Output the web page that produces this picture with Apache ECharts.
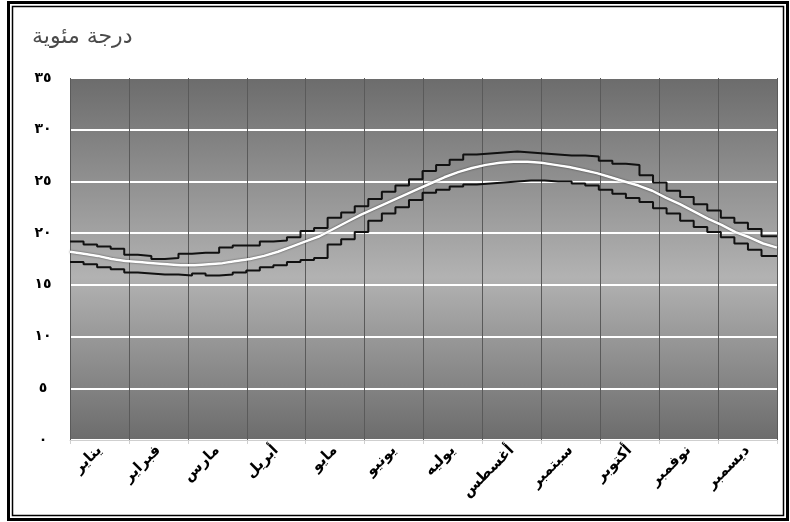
<!DOCTYPE html>
<html>
<head>
<meta charset="utf-8">
<script src="https://cdn.jsdelivr.net/npm/echarts@6/dist/echarts.min.js"></script>
<style>
  html, body { margin: 0; padding: 0; background: #fff; }
  #chart { width: 790px; height: 522px; }
</style>
</head>
<body>
<div id="chart"></div>
<script>
// Month names along the bottom axis
const months = ['يناير', 'فبراير', 'مارس', 'أبريل', 'مايو', 'يونيو', 'يوليه', 'أغسطس', 'سبتمبر', 'أكتوبر', 'نوفمبر', 'ديسمبر'];

// Y axis ticks (°C)
const yTicks = [0, 5, 10, 15, 20, 25, 30, 35];

// Weekly temperatures (°C), week 1 .. week 52
const upperTemp = [19.2, 18.9, 18.7, 18.5, 17.9, 17.8, 17.5, 17.6, 18.0, 18.1, 18.1, 18.6, 18.8,
  18.8, 19.2, 19.3, 19.6, 20.2, 20.5, 21.5, 22.0, 22.6, 23.3, 24.0, 24.6, 25.2,
  26.0, 26.6, 27.1, 27.6, 27.7, 27.8, 27.9, 27.8, 27.7, 27.6, 27.5, 27.5, 27.4,
  27.0, 26.7, 26.6, 25.6, 24.9, 24.1, 23.5, 22.8, 22.2, 21.5, 21.0, 20.4, 19.7];

const meanTemp = [18.2, 18.0, 17.8, 17.5, 17.3, 17.2, 17.1, 17.0, 16.9, 16.9, 17.0, 17.1, 17.3,
  17.5, 17.8, 18.2, 18.7, 19.2, 19.7, 20.4, 21.1, 21.8, 22.4, 23.0, 23.6, 24.2,
  24.8, 25.4, 25.9, 26.3, 26.6, 26.8, 26.9, 26.9, 26.8, 26.6, 26.4, 26.1, 25.8,
  25.4, 25.0, 24.6, 24.1, 23.4, 22.8, 22.1, 21.4, 20.8, 20.1, 19.6, 19.0, 18.6];

const lowerTemp = [17.2, 17.0, 16.7, 16.5, 16.2, 16.1, 16.0, 16.0, 15.9, 16.1, 15.9, 16.0, 16.2,
  16.4, 16.7, 16.9, 17.2, 17.4, 17.6, 18.9, 19.4, 20.1, 21.2, 21.9, 22.5, 23.2,
  23.9, 24.2, 24.5, 24.7, 24.8, 24.9, 25.0, 25.1, 25.1, 25.0, 25.0, 24.8, 24.6,
  24.2, 23.8, 23.4, 23.0, 22.4, 21.9, 21.2, 20.6, 20.1, 19.6, 19.0, 18.4, 17.8];

const DAYS = 365;
const arabicDigits = '٠١٢٣٤٥٦٧٨٩';
const toArabic = n => String(n).replace(/[0-9]/g, d => arabicDigits[d]);

// Step series: each weekly value holds from the start of its week; the last one runs to year end
function stepPoints(vals) {
  const pts = vals.map((v, i) => [i * 7, v]);
  pts.push([DAYS, vals[vals.length - 1]]);
  return pts;
}
// Mean series: weekly values spread across the full year
function spreadPoints(vals) {
  return vals.map((v, i) => [i * DAYS / (vals.length - 1), v]);
}

const chart = echarts.init(document.getElementById('chart'), null, { renderer: 'canvas' });

const arabicFont = '"DejaVu Sans", sans-serif';

chart.setOption({
  animation: false,
  backgroundColor: '#ffffff',
  graphic: [
    { type: 'rect', shape: { x: 8.5, y: 2.5, width: 779, height: 517 },
      style: { fill: null, stroke: '#000', lineWidth: 3 }, silent: true },
    { type: 'rect', shape: { x: 12.5, y: 6.5, width: 771, height: 509 },
      style: { fill: null, stroke: '#000', lineWidth: 1.5 }, silent: true },
    { type: 'text', left: 32, top: 26,
      style: { text: 'درجة مئوية', font: '22px ' + arabicFont, fill: '#4a4a4a' }, silent: true }
  ],
  grid: {
    left: 70, right: 13, top: 78, bottom: 82,
    show: true,
    borderWidth: 0,
    backgroundColor: new echarts.graphic.LinearGradient(0, 0, 0, 1, [
      { offset: 0, color: '#6c6c6c' },
      { offset: 0.55, color: '#b2b2b2' },
      { offset: 1, color: '#6c6c6c' }
    ])
  },
  xAxis: [
    {
      type: 'category',
      data: months,
      boundaryGap: true,
      axisLine: { show: true, lineStyle: { color: '#cfcfcf', width: 1 } },
      axisTick: { show: true, alignWithLabel: false, length: 4, lineStyle: { color: '#cfcfcf' } },
      splitLine: { show: true, lineStyle: { color: '#5a5a5a', width: 1 } },
      axisLabel: {
        rotate: 45,
        interval: 0,
        margin: 8,
        color: '#000',
        fontFamily: arabicFont,
        fontWeight: 'bold',
        fontSize: 15
      }
    },
    {
      type: 'value',
      min: 0, max: DAYS,
      show: false
    }
  ],
  yAxis: {
    type: 'value',
    min: 0, max: 35, interval: 5,
    axisLine: { show: false },
    axisTick: { show: false },
    splitLine: { show: true, lineStyle: { color: '#ffffff', width: 2 } },
    axisLabel: {
      margin: 27,
      align: 'center',
      color: '#000',
      fontFamily: arabicFont,
      fontWeight: 'bold',
      fontSize: 14,
      formatter: v => yTicks.includes(v) ? toArabic(v) : ''
    }
  },
  series: [
    {
      name: 'upper', type: 'line', xAxisIndex: 1, step: 'end',
      data: stepPoints(upperTemp), symbol: 'none',
      lineStyle: { color: '#111', width: 2 }
    },
    {
      name: 'lower', type: 'line', xAxisIndex: 1, step: 'end',
      data: stepPoints(lowerTemp), symbol: 'none',
      lineStyle: { color: '#111', width: 2 }
    },
    {
      name: 'mean', type: 'line', xAxisIndex: 1,
      data: spreadPoints(meanTemp), symbol: 'none',
      lineStyle: { color: '#ffffff', width: 2.5, shadowColor: 'rgba(0,0,0,0.6)', shadowBlur: 2 }
    }
  ]
});
</script>
</body>
</html>
